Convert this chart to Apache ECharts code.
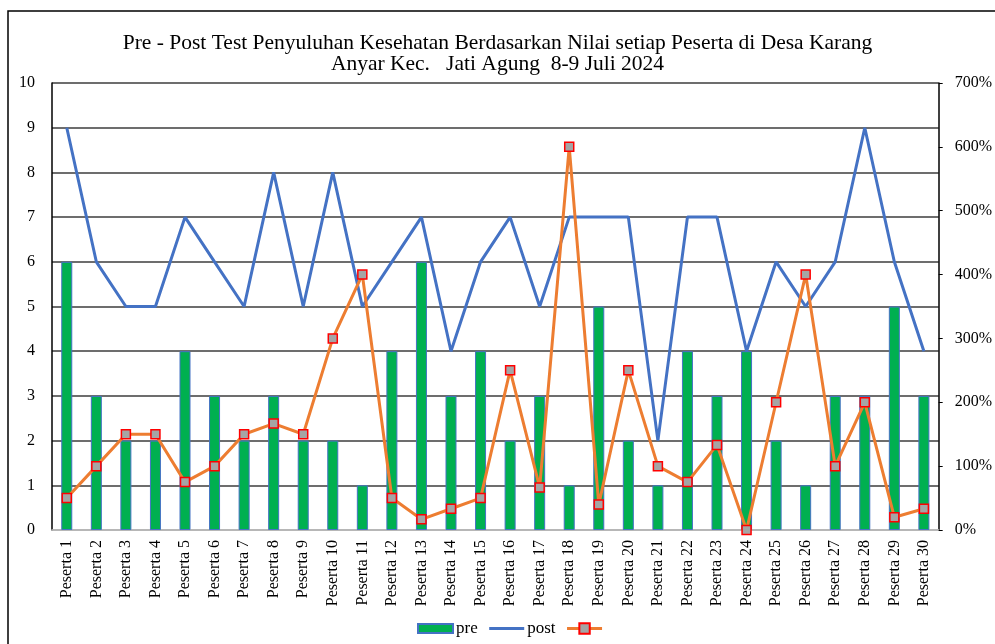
<!DOCTYPE html>
<html>
<head>
<meta charset="utf-8">
<script src="https://cdn.jsdelivr.net/npm/echarts@6/dist/echarts.min.js"></script>
<style>
html,body{margin:0;padding:0;background:#fff;}
#chart{width:995px;height:644px;}
</style>
</head>
<body>
<div id="chart"></div>
<script>
const titleLines = ["Pre - Post Test Penyuluhan Kesehatan Berdasarkan Nilai setiap Peserta di Desa Karang", "Anyar Kec.   Jati Agung  8-9 Juli 2024"];
const categories = ["Peserta 1","Peserta 2","Peserta 3","Peserta 4","Peserta 5","Peserta 6","Peserta 7","Peserta 8","Peserta 9","Peserta 10","Peserta 11","Peserta 12","Peserta 13","Peserta 14","Peserta 15","Peserta 16","Peserta 17","Peserta 18","Peserta 19","Peserta 20","Peserta 21","Peserta 22","Peserta 23","Peserta 24","Peserta 25","Peserta 26","Peserta 27","Peserta 28","Peserta 29","Peserta 30"];
const preValues = [6,3,2,2,4,3,2,3,2,2,1,4,6,3,4,2,3,1,5,2,1,4,3,4,2,1,3,3,5,3];
const postValues = [9,6,5,5,7,6,5,8,5,8,5,6,7,4,6,7,5,7,7,7,2,7,7,4,6,5,6,9,6,4];
const gainPercent = [50,100,150,150,75,100,150,166.7,150,300,400,50,16.7,33.3,50,250,66.7,600,40,250,100,75,133.3,0,200,400,100,200,20,33.3];
const leftTicks = {min:0, max:10, interval:1};
const rightTicks = {min:0, max:700, interval:100};

const FONT = "'Liberation Serif', 'Times New Roman', serif";
const chart = echarts.init(document.getElementById('chart'));
chart.setOption({
  backgroundColor: '#fff',
  animation: false,
  textStyle: {fontFamily: FONT, color: '#000'},
  title: {
    text: titleLines.join('\n'),
    left: 'center', top: 33, padding: 0,
    textStyle: {fontFamily: FONT, fontSize: 21.5, fontWeight: 'normal', color: '#000', lineHeight: 21}
  },
  graphic: [{
    type: 'rect', shape: {x: 8, y: 11, width: 1000, height: 700},
    style: {fill: 'none', stroke: '#000', lineWidth: 1.5}, silent: true, z: -1
  }],
  legend: {
    left: 417, top: 620, padding: 0,
    itemWidth: 35, itemHeight: 13, itemGap: 10,
    textStyle: {fontFamily: FONT, fontSize: 17, color: '#000', padding: [0, 0, 0, -2]},
    data: [
      {name: 'pre', icon: 'path://M0,0M0,2H35V11H0ZM35,13'},
      {name: 'post', itemStyle: {opacity: 0}, lineStyle: {width: 3}},
      {name: ' ', lineStyle: {width: 3}}
    ]
  },
  grid: {left: 52, right: 56, top: 83, bottom: 114, containLabel: false},
  xAxis: {
    type: 'category', data: categories,
    axisLine: {show: true, lineStyle: {color: '#d0d0d0', width: 1.5}},
    axisTick: {show: false},
    axisLabel: {rotate: 90, fontFamily: FONT, fontSize: 16, color: '#000', margin: 10, interval: 0}
  },
  yAxis: [{
    type: 'value', min: leftTicks.min, max: leftTicks.max, interval: leftTicks.interval,
    axisLine: {show: true, lineStyle: {color: '#000', width: 1.5}},
    axisTick: {show: false},
    axisLabel: {fontFamily: FONT, fontSize: 16, color: '#000', margin: 17},
    splitLine: {show: true, lineStyle: {color: '#3c3c3c', width: 1.6}}
  }, {
    type: 'value', min: rightTicks.min, max: rightTicks.max, interval: rightTicks.interval,
    position: 'right',
    axisLine: {show: true, lineStyle: {color: '#000', width: 1.5}},
    axisTick: {show: true, length: 4, inside: false, lineStyle: {color: '#000'}},
    axisLabel: {fontFamily: FONT, fontSize: 16, color: '#000', margin: 16, formatter: '{value}%'},
    splitLine: {show: false}
  }],
  series: [{
    name: 'pre', type: 'bar', data: preValues, barWidth: 11,
    itemStyle: {color: '#00b050', borderColor: '#4472c4', borderWidth: 1}
  }, {
    name: 'post', type: 'line', data: postValues, symbol: 'none',
    lineStyle: {color: '#4472c4', width: 3}, itemStyle: {color: '#4472c4'}, z: 3
  }, {
    name: ' ', type: 'line', yAxisIndex: 1, data: gainPercent,
    symbol: 'rect', symbolSize: 9,
    lineStyle: {color: '#ed7d31', width: 3},
    itemStyle: {color: '#a5a5a5', borderColor: '#ff0000', borderWidth: 1.5},
    z: 4
  }]
});
</script>
</body>
</html>
